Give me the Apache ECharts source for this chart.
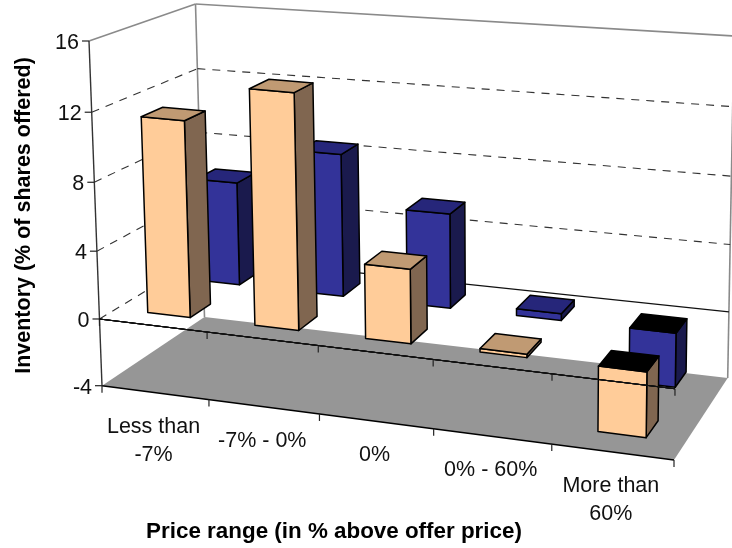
<!DOCTYPE html>
<html>
<head>
<meta charset="utf-8">
<style>html,body{margin:0;padding:0;background:#fff}#chart{width:732px;height:548px}</style>
<script src="https://cdn.jsdelivr.net/npm/echarts@6/dist/echarts.min.js"></script>
</head>
<body>
<div id="chart"></div>
<script>
// Inventory by price range: 3-D style column chart
const categories = ['Less than\n-7%', '-7% - 0%', '0%', '0% - 60%', 'More than\n60%'];
const frontRow = [11.5, 13.65, 4.3, 0.2, -3.75];
const backRow = [6.3, 8.6, 5.65, 0.4, -3.2];
const valueTicks = [-4, 0, 4, 8, 12, 16];

// Box corners on screen, indexed [across][depth][height]
const box = [
  [[[102, 385.7], [89, 41]], [[204.5, 317], [195.5, 4]]],
  [[[674, 460], [679, 92]], [[727.7, 378], [734, 36]]]
];
const foreshorten = { across: -0.08, depth: 0.1, height: -0.04 };
const warp = (t, k) => t * (1 + k) / (1 + k * t);
const mix = (a, b, t) => [a[0] + (b[0] - a[0]) * t, a[1] + (b[1] - a[1]) * t];

function project(u, d, t) {
  const a = warp(u, foreshorten.across), b = warp(d, foreshorten.depth), c = warp(t, foreshorten.height);
  const side = i => mix(mix(box[i][0][0], box[i][0][1], c), mix(box[i][1][0], box[i][1][1], c), b);
  return mix(side(0), side(1), a);
}

// Normalised position along each axis, from the cartesian scales
const unitX = (api, params, cat) => {
  const cs = params.coordSys;
  return (api.coord([cat, 0])[0] - cs.x) / cs.width;
};
const unitY = (api, params, v) => {
  const cs = params.coordSys;
  return (cs.y + cs.height - api.coord([0, v])[1]) / cs.height;
};
const bandWidth = (api, params) => api.size([1, 0])[0] / params.coordSys.width;

const line = (p, q, color, width, dash) => ({
  type: 'line',
  shape: { x1: p[0], y1: p[1], x2: q[0], y2: q[1] },
  style: { stroke: color, lineWidth: width, lineDash: dash || null }
});
const quad = (pts, fill) => ({
  type: 'polygon',
  shape: { points: pts },
  style: { fill, stroke: '#000', lineWidth: 1.5, lineJoin: 'round' }
});
const LABEL_FONT = '21.5px "Liberation Sans", Arial, sans-serif';
const DASH = [8, 7];
const WALL = '#8a8a8a';

function renderFloor(params, api) {
  const c = [project(0, 0, 0), project(0, 1, 0), project(1, 1, 0), project(1, 0, 0)];
  return { type: 'group', children: [
    { type: 'polygon', shape: { points: c }, style: { fill: '#969696' } },
    line(c[0], c[3], '#000', 1.4),
    line(project(0, 1, 1), project(0, 1, 0), WALL, 1.6),
    line(project(1, 1, 1), project(1, 1, 0), WALL, 1.6),
    line(project(0, 0, 1), project(0, 1, 1), WALL, 1.6),
    line(project(0, 1, 1), project(1, 1, 1), WALL, 1.6),
    line(project(0, 0, 0), project(0, 0, 1), '#333', 1.4)
  ] };
}

function renderValueTick(params, api) {
  const v = api.value(0);
  const t = unitY(api, params, v);
  const p = project(0, 0, t);
  const kids = [
    line([p[0] - 7, p[1]], p, '#222', 1.2),
    { type: 'text', style: {
      text: String(v), x: p[0] - 10, y: p[1] + 2, fill: '#111',
      font: LABEL_FONT, align: 'right', verticalAlign: 'middle'
    } }
  ];
  if (v > -4 && v < 16) {
    kids.push(line(p, project(0, 1, t), '#333', 1.1, DASH));
    kids.push(v === 0
      ? line(project(0, 1, t), project(1, 1, t), '#111', 1.2)
      : line(project(0, 1, t), project(1, 1, t), '#333', 1.1, DASH));
  }
  return { type: 'group', children: kids };
}

// The axis at value 0 runs in front of any column that hangs below it
function renderCategoryTick(params, api) {
  const i = api.value(0);
  const half = bandWidth(api, params) / 2;
  const u = unitX(api, params, i);
  const t0 = unitY(api, params, 0);
  const kids = [];
  const edges = i === 0 ? [u - half, u + half] : [u + half];
  edges.forEach(e => {
    [0, t0].forEach(t => {
      const p = project(e, 0, t);
      kids.push(line(p, [p[0], p[1] + 7], '#222', 1.2));
    });
  });
  kids.push(line(project(0, 0, t0), project(1, 0, t0), '#111', 1.2));
  const b = project(u, 0, 0);
  kids.push({ type: 'text', style: {
    text: categories[i], x: b[0] - 1.5, y: b[1] + 20, fill: '#111',
    font: LABEL_FONT, align: 'center', verticalAlign: 'top', lineHeight: 28
  } });
  return { type: 'group', children: kids };
}

// One column: front, right side and cap, drawn back to front
function barRenderer(depthNear, depthFar, colors) {
  return function (params, api) {
    const i = api.value(0), v = api.value(1);
    const u = unitX(api, params, i);
    const half = bandWidth(api, params) * 0.2;
    const l = u - half, r = u + half;
    const hi = unitY(api, params, Math.max(v, 0));
    const lo = unitY(api, params, Math.min(v, 0));
    const capFill = v < 0 ? '#000' : colors.top;
    return { type: 'group', children: [
      quad([project(r, depthNear, hi), project(r, depthFar, hi), project(r, depthFar, lo), project(r, depthNear, lo)], colors.side),
      quad([project(l, depthNear, hi), project(r, depthNear, hi), project(r, depthNear, lo), project(l, depthNear, lo)], colors.front),
      quad([project(l, depthNear, hi), project(l, depthFar, hi), project(r, depthFar, hi), project(r, depthNear, hi)], capFill)
    ] };
  };
}

const ORANGE = { front: '#FFCC99', side: '#806650', top: '#C09A73' };
const BLUE = { front: '#333399', side: '#1A1A4D', top: '#26267A' };
const toPairs = values => values.map((v, i) => [i, v]);
const custom = (renderItem, data, z) => ({
  type: 'custom', renderItem, data, z, clip: false, silent: true, animation: false
});
const titleStyle = size => ({ fontFamily: '"Liberation Sans", Arial, sans-serif', fontWeight: 'bold', fontSize: size, color: '#000' });

const chart = echarts.init(document.getElementById('chart'), null, { renderer: 'canvas' });
chart.setOption({
  animation: false,
  backgroundColor: '#fff',
  grid: { left: 99, top: 46, width: 470, height: 352 },
  xAxis: {
    type: 'category',
    data: categories,
    axisLine: { show: false }, axisTick: { show: false }, axisLabel: { show: false }, splitLine: { show: false },
    name: 'Price range (in % above offer price)',
    nameLocation: 'middle', nameGap: 136,
    nameTextStyle: titleStyle(22.4)
  },
  yAxis: {
    type: 'value', min: -4, max: 16, interval: 4,
    axisLine: { show: false }, axisTick: { show: false }, axisLabel: { show: false }, splitLine: { show: false },
    name: 'Inventory (% of shares offered)',
    nameLocation: 'middle', nameGap: 64,
    nameTextStyle: titleStyle(21.5)
  },
  series: [
    custom(renderFloor, [[0, 0]], 1),
    custom(renderValueTick, valueTicks.map(v => [v]), 2),
    custom(barRenderer(0.65, 0.85, BLUE), toPairs(backRow), 4),
    custom(barRenderer(0.15, 0.35, ORANGE), toPairs(frontRow), 5),
    custom(renderCategoryTick, categories.map((c, i) => [i]), 6)
  ]
});
</script>
</body>
</html>
